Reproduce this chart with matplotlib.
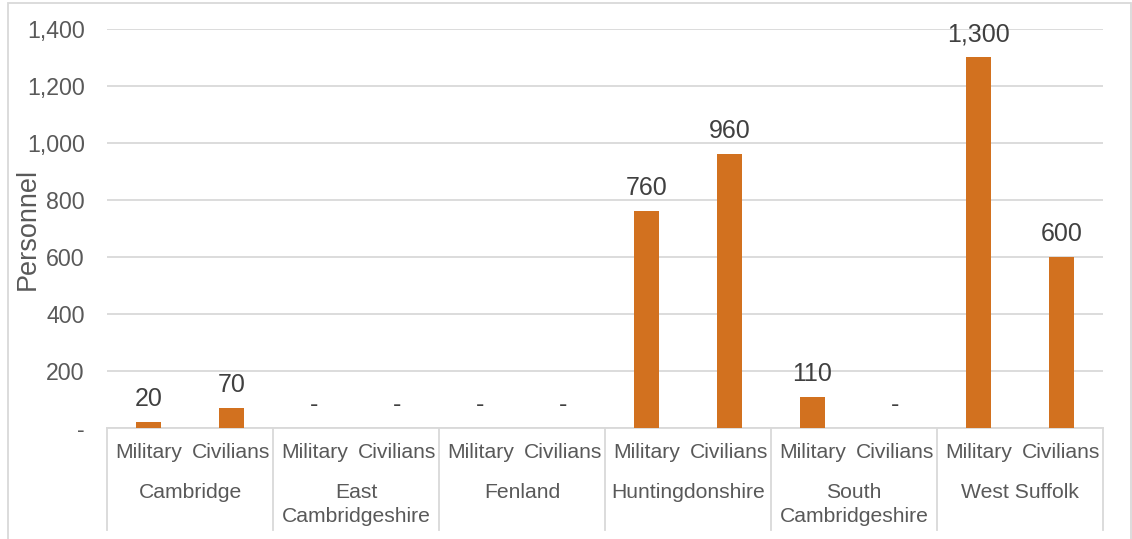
import numpy as np
import matplotlib
matplotlib.use("Agg")
import matplotlib.pyplot as plt
from matplotlib.patches import Rectangle
from matplotlib.ticker import FuncFormatter

plt.rcParams['font.family'] = ['Liberation Sans', 'DejaVu Sans']

# data
districts = ["Cambridge", "East\nCambridgeshire", "Fenland", "Huntingdonshire",
             "South\nCambridgeshire", "West Suffolk"]
groups = ["Military", "Civilians"]
military = [20, 0, 0, 760, 110, 1300]
civilians = [70, 0, 0, 960, 0, 600]
yticks = [0, 200, 400, 600, 800, 1000, 1200, 1400]

bar_col = "#D2711F"
txt_col = "#595959"
lab_col = "#404040"
grid_col = "#D9D9D9"

W, H = 1132, 539
fig = plt.figure(figsize=(W / 100, H / 100), dpi=100)
x0, x1, y0, y1 = 107, 1103, 428, 29
ax = fig.add_axes([x0 / W, (H - y0) / H, (x1 - x0) / W, (y0 - y1) / H])

# interleave the two series: Military, Civilians per district
values = []
for m, c in zip(military, civilians):
    values += [m, c]
pos = np.arange(len(values))

bars = ax.bar(pos, values, width=0.31, color=bar_col, zorder=3)
for p, v in zip(pos, values):
    lab = "-" if v == 0 else f"{v:,}"
    ax.annotate(lab, (p, v), xytext=(0, 8), textcoords="offset points",
                ha="center", va="bottom", fontsize=18, color=lab_col)

ax.set_xlim(-0.5, len(values) - 0.5)
ax.set_ylim(0, 1400)
ax.set_yticks(yticks)
ax.yaxis.set_major_formatter(FuncFormatter(lambda v, p: "-" if v == 0 else f"{int(v):,}"))
ax.tick_params(axis="y", length=0, pad=16, labelsize=16.7, labelcolor=txt_col)
ax.set_xticks([])
ax.grid(axis="y", color=grid_col, lw=1.3, zorder=0)
for s in ["top", "right", "left"]:
    ax.spines[s].set_visible(False)
ax.spines["bottom"].set_color(grid_col)
ax.spines["bottom"].set_linewidth(1.3)

# two-level category axis
tr = ax.get_xaxis_transform()
depth = (530 - y0) / (y0 - y1)
for i in range(len(districts) + 1):
    ax.plot([2 * i - 0.5] * 2, [0, -depth], transform=tr, color=grid_col,
            lw=1.3, clip_on=False)
for p in pos:
    ax.text(p, -(452 - y0) / (y0 - y1), groups[p % 2], transform=tr,
            ha="center", va="center", fontsize=15.2, color=txt_col)
for i, d in enumerate(districts):
    ax.text(2 * i + 0.5, -(483 - y0) / (y0 - y1), d, transform=tr,
            ha="center", va="top", fontsize=15.2, color=txt_col, linespacing=1.35)

fig.text(28 / W, 1 - 229 / H, "Personnel", rotation=90, ha="center", va="center",
         fontsize=19.5, color=txt_col)

# outer chart frame
fig.add_artist(Rectangle((8 / W, -0.1), (1131 - 8) / W, 1.1 - 3 / H,
                         transform=fig.transFigure, fill=False,
                         edgecolor=grid_col, lw=1.3))

fig.savefig("out.png", dpi=100)
